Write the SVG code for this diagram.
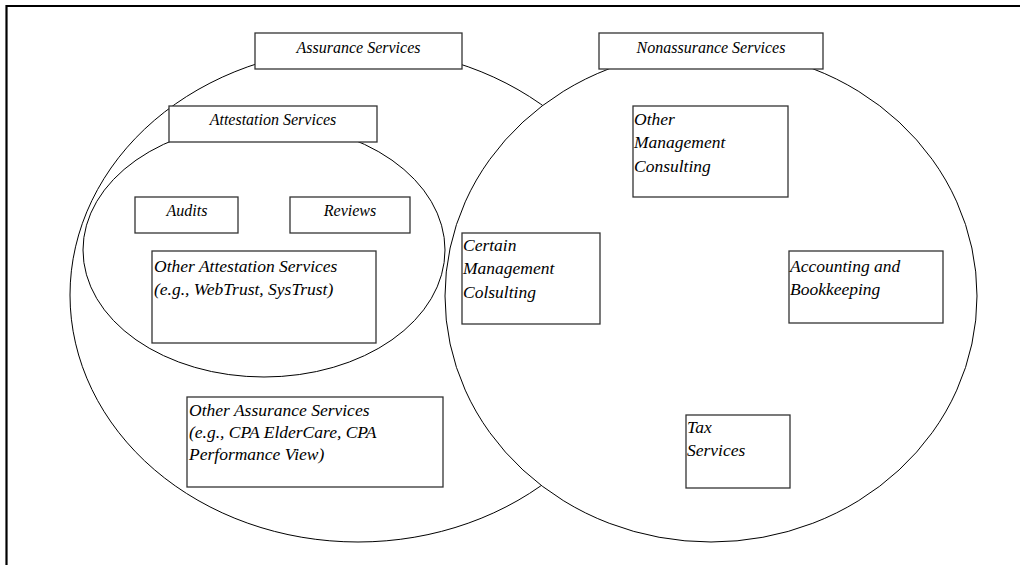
<svg xmlns="http://www.w3.org/2000/svg" width="1020" height="565" viewBox="0 0 1020 565">
  <style>
    .ring { fill: none; stroke: #000; stroke-width: 1; }
    .ring-solid { fill: #fff; stroke: #000; stroke-width: 1; }
    .box { fill: #fff; stroke: #333; stroke-width: 1.3; }
    .head { font-family: "Liberation Serif", "Times New Roman", serif; font-style: italic; font-size: 16px; fill: #000; text-anchor: middle; }
    .body { font-family: "Liberation Serif", "Times New Roman", serif; font-style: italic; font-size: 17.5px; fill: #000; }
  </style>
  <rect x="0" y="0" width="1020" height="565" fill="#fff"/>

  <!-- page frame: only top and left edges fall inside the view -->
  <path d="M6.5 570 L6.5 6 L1025 6" fill="none" stroke="#000" stroke-width="2.2"/>

  <!-- set outlines -->
  <g id="set-assurance">
    <ellipse class="ring" cx="358" cy="295" rx="288" ry="247"/>
  </g>
  <g id="set-nonassurance">
    <ellipse class="ring-solid" cx="711" cy="296" rx="266" ry="246"/>
  </g>
  <g id="set-attestation">
    <ellipse class="ring" cx="264" cy="250" rx="181" ry="127"/>
  </g>

  <!-- headings -->
  <g id="assurance-services">
    <rect class="box" x="255" y="33" width="207" height="36"/>
    <text class="head" x="358.5" y="53">Assurance Services</text>
  </g>
  <g id="nonassurance-services">
    <rect class="box" x="599" y="33" width="224" height="36"/>
    <text class="head" x="711" y="53">Nonassurance Services</text>
  </g>
  <g id="attestation-services">
    <rect class="box" x="169" y="106" width="208" height="36"/>
    <text class="head" x="273" y="125">Attestation Services</text>
  </g>

  <!-- attestation members -->
  <g id="audits">
    <rect class="box" x="135" y="197" width="103" height="36"/>
    <text class="head" x="187" y="216">Audits</text>
  </g>
  <g id="reviews">
    <rect class="box" x="290" y="197" width="120" height="36"/>
    <text class="head" x="350" y="216">Reviews</text>
  </g>
  <g id="other-attestation">
    <rect class="box" x="152" y="251" width="224" height="92"/>
    <text class="body" x="154" y="272">Other Attestation Services</text>
    <text class="body" x="154" y="295">(e.g., WebTrust, SysTrust)</text>
  </g>

  <!-- other assurance -->
  <g id="other-assurance">
    <rect class="box" x="187" y="397" width="256" height="90"/>
    <text class="body" x="189" y="416">Other Assurance Services</text>
    <text class="body" x="189" y="438">(e.g., CPA ElderCare, CPA</text>
    <text class="body" x="189" y="460">Performance View)</text>
  </g>

  <!-- nonassurance members -->
  <g id="other-management-consulting">
    <rect class="box" x="633" y="106" width="155" height="91"/>
    <text class="body" x="634" y="125">Other</text>
    <text class="body" x="634" y="148">Management</text>
    <text class="body" x="634" y="172">Consulting</text>
  </g>
  <g id="certain-management-consulting">
    <rect class="box" x="462" y="233" width="138" height="91"/>
    <text class="body" x="463" y="251">Certain</text>
    <text class="body" x="463" y="274">Management</text>
    <text class="body" x="463" y="298">Colsulting</text>
  </g>
  <g id="accounting-bookkeeping">
    <rect class="box" x="789" y="251" width="154" height="72"/>
    <text class="body" x="790" y="272">Accounting and</text>
    <text class="body" x="790" y="295">Bookkeeping</text>
  </g>
  <g id="tax-services">
    <rect class="box" x="686" y="415" width="104" height="73"/>
    <text class="body" x="687" y="433">Tax</text>
    <text class="body" x="687" y="456">Services</text>
  </g>
</svg>
